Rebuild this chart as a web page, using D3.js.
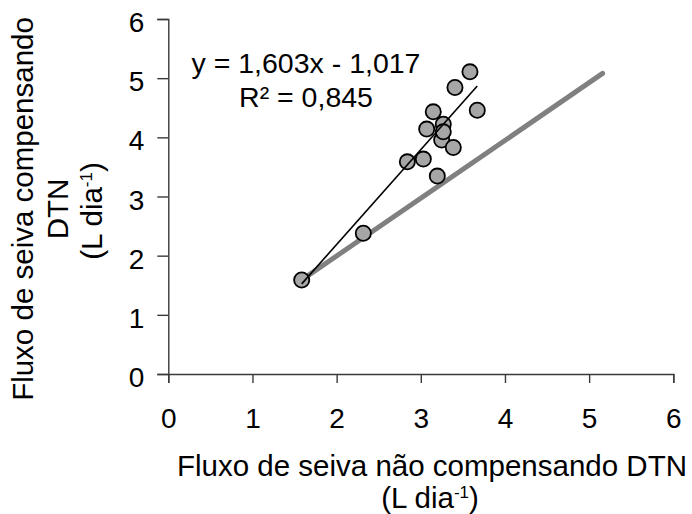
<!DOCTYPE html>
<html>
<head>
<meta charset="utf-8">
<script src="https://cdn.jsdelivr.net/npm/d3@7"></script>
<style>
  html, body { margin: 0; padding: 0; background: #fff; }
  svg text { font-family: Arial, "Liberation Sans", sans-serif; fill: #000; }
</style>
</head>
<body>
<svg id="chart" width="692" height="514"></svg>
<script>
// Sap flow: not compensated (x) vs compensated (y) for natural temperature gradients
const fluxNaoCompensado = [1.585, 2.317, 2.840, 3.030, 3.070, 3.148, 3.196, 3.248, 3.267, 3.267, 3.386, 3.406, 3.584, 3.671];
const fluxCompensado    = [1.590, 2.378, 3.586, 3.632, 4.139, 4.431, 3.345, 3.953, 4.223, 4.093, 3.829, 4.843, 5.107, 4.459];

// Linear fit reported on the chart
const slope = 1.603;
const intercept = -1.017;
const r2 = 0.845;

// Reference line endpoints (x, y)
const refLineX = [1.585, 5.16];
const refLineY = [1.590, 5.08];

const xTicks = [0, 1, 2, 3, 4, 5, 6];
const yTicks = [0, 1, 2, 3, 4, 5, 6];

const svg = d3.select("#chart");
const fmt = v => v.toFixed(3).replace(".", ",");

const x = d3.scaleLinear().domain([0, 6]).range([168.3, 673.3]);
const y = d3.scaleLinear().domain([0, 6]).range([374, 19]);

// Axes
const xAxis = svg.append("g")
  .attr("transform", `translate(0,${y(0)})`)
  .call(d3.axisBottom(x).tickValues(xTicks).tickSize(9).tickPadding(6).tickFormat(d3.format("d")));
const yAxis = svg.append("g")
  .attr("transform", `translate(${x(0)},0)`)
  .call(d3.axisLeft(y).tickValues(yTicks).tickSize(11).tickPadding(13).tickFormat(d3.format("d")));

[xAxis, yAxis].forEach(g => {
  g.select(".domain").attr("stroke", "#3a3a3a").attr("stroke-width", 1.4);
  g.selectAll(".tick line").attr("stroke", "#3a3a3a").attr("stroke-width", 1.4);
  g.selectAll(".tick text").attr("font-size", 28).attr("fill", "#000")
    .style("font-family", "Arial, 'Liberation Sans', sans-serif");
});
xAxis.selectAll(".tick text").attr("dy", "1.38em");
yAxis.selectAll(".tick text").attr("dy", "0.45em");

// Reference line
svg.append("line")
  .attr("x1", x(refLineX[0])).attr("y1", y(refLineY[0]))
  .attr("x2", x(refLineX[1])).attr("y2", y(refLineY[1]))
  .attr("stroke", "#808080").attr("stroke-width", 5).attr("stroke-linecap", "round");

// Points
svg.append("g").selectAll("circle")
  .data(fluxNaoCompensado.map((v, i) => [v, fluxCompensado[i]]))
  .join("circle")
  .attr("cx", d => x(d[0]))
  .attr("cy", d => y(d[1]))
  .attr("r", 7.6)
  .attr("fill", "#a6a6a6")
  .attr("stroke", "#000")
  .attr("stroke-width", 1.8);

// Trend line across the data range
const xMin = d3.min(fluxNaoCompensado), xMax = d3.max(fluxNaoCompensado);
svg.append("line")
  .attr("x1", x(xMin)).attr("y1", y(slope * xMin + intercept))
  .attr("x2", x(xMax)).attr("y2", y(slope * xMax + intercept))
  .attr("stroke", "#000").attr("stroke-width", 1.6);

// Equation
const eq = svg.append("text").attr("font-size", 28.5).attr("text-anchor", "middle");
eq.append("tspan").attr("x", 306).attr("y", 73)
  .text(`y = ${fmt(slope)}x - ${fmt(-intercept)}`);
eq.append("tspan").attr("x", 306).attr("y", 106.5)
  .text(`R² = ${fmt(r2)}`);

// X axis title
const xt = svg.append("text").attr("font-size", 29.5).attr("text-anchor", "middle");
xt.append("tspan").attr("x", 432).attr("y", 476).text("Fluxo de seiva não compensando DTN");
const xt2 = svg.append("text").attr("font-size", 29.5).attr("text-anchor", "middle")
  .attr("x", 430).attr("y", 508);
xt2.append("tspan").text("(L dia");
xt2.append("tspan").attr("font-size", 17).attr("dy", -10).text("-1");
xt2.append("tspan").attr("dy", 10).text(")");

// Y axis title
const yt = svg.append("text").attr("font-size", 29.5).attr("text-anchor", "middle")
  .attr("transform", "rotate(-90)");
yt.append("tspan").attr("x", -209).attr("y", 33).text("Fluxo de seiva compensando");
yt.append("tspan").attr("x", -209).attr("y", 68).text("DTN");
const yt3 = svg.append("text").attr("font-size", 29.5).attr("text-anchor", "middle")
  .attr("transform", "rotate(-90)").attr("x", -211).attr("y", 102);
yt3.append("tspan").text("(L dia");
yt3.append("tspan").attr("font-size", 17).attr("dy", -10).text("-1");
yt3.append("tspan").attr("dy", 10).text(")");
</script>
</body>
</html>
